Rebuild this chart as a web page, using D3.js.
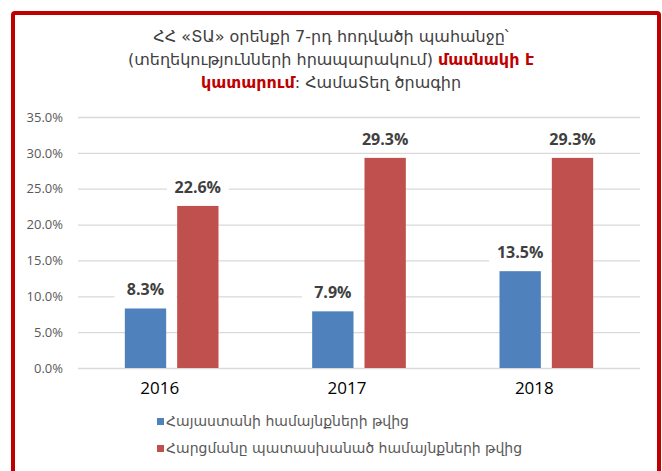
<!DOCTYPE html>
<html><head><meta charset="utf-8">
<script src="https://cdn.jsdelivr.net/npm/d3@7"></script>
<style>body{margin:0;background:#fff;}svg{display:block;}</style>
</head><body>
<svg id="chart" width="662" height="471"></svg>
<script>
const categories = ["2016", "2017", "2018"];
const seriesNames = ["Հայաստանի համայնքների թվից", "Հարցմանը պատասխանած համայնքների թվից"];
const armeniaShare = [8.3, 7.9, 13.5];
const respondentShare = [22.6, 29.3, 29.3];
const yTicks = [0, 5, 10, 15, 20, 25, 30, 35];
const titleLines = [
  [{t: "ՀՀ «ՏԱ» օրենքի 7-րդ հոդվածի պահանջը՝", b: false}],
  [{t: "(տեղեկությունների հրապարակում) ", b: false}, {t: "մասնակի է", b: true}],
  [{t: "կատարում", b: true}, {t: ": ՀամաՏեղ ծրագիր", b: false}]
];
const colors = ["#4f81bd", "#c0504d"];

const svg = d3.select("#chart");
svg.append("rect").attr("x", 13).attr("y", 13).attr("width", 646).attr("height", 480)
  .attr("rx", 2).attr("fill", "#fff").attr("stroke", "#c00000").attr("stroke-width", 4);

const armFont = "'DejaVu Sans', sans-serif";
const title = svg.append("text").attr("text-anchor", "middle").attr("font-family", armFont)
  .attr("font-size", 16).attr("fill", "#404040");
titleLines.forEach((line, i) => {
  const tl = title.append("tspan").attr("x", 331).attr("y", 42 + i * 23);
  line.forEach(seg => {
    tl.append("tspan").text(seg.t)
      .attr("font-weight", seg.b ? "bold" : "normal")
      .attr("fill", seg.b ? "#c00000" : "#404040");
  });
});

const x0 = d3.scaleBand().domain(categories).range([78, 640]).paddingInner(0).paddingOuter(0);
const y = d3.scaleLinear().domain([0, 35]).range([368, 117]);
const x1 = d3.scaleBand().domain([0, 1])
  .range([x0.bandwidth() * 0.25, x0.bandwidth() * 0.75]).paddingInner(0.21);

// gridlines
const yAxis = d3.axisLeft(y).tickValues(yTicks).tickSize(-(640 - 78)).tickPadding(15)
  .tickFormat(d => d3.format(".1f")(d) + "%");
const gy = svg.append("g").attr("transform", "translate(78,0)").call(yAxis);
gy.select(".domain").remove();
gy.selectAll(".tick line").attr("stroke", "#d9d9d9").attr("stroke-width", 1.3);
gy.selectAll(".tick text").attr("font-family", "'Open Sans', sans-serif").attr("font-size", 13)
  .attr("fill", "#595959");

const data = categories.map((c, i) => ({cat: c, vals: [armeniaShare[i], respondentShare[i]]}));
const groups = svg.append("g").selectAll("g").data(data).join("g")
  .attr("transform", d => `translate(${x0(d.cat)},0)`);
groups.selectAll("rect").data(d => d.vals.map((v, k) => ({v, k}))).join("rect")
  .attr("x", d => x1(d.k)).attr("width", x1.bandwidth())
  .attr("y", d => y(d.v)).attr("height", d => y(0) - y(d.v))
  .attr("fill", d => colors[d.k]);

// data labels with white backing
const lab = groups.selectAll("g.lab").data(d => d.vals.map((v, k) => ({v, k}))).join("g").attr("class", "lab");
lab.append("rect")
  .attr("x", d => x1(d.k) + x1.bandwidth() / 2 - 31).attr("width", 62)
  .attr("y", d => y(d.v) - 31).attr("height", 23).attr("fill", "#fff");
lab.append("text")
  .attr("x", d => x1(d.k) + x1.bandwidth() / 2).attr("y", d => y(d.v) - 13)
  .attr("text-anchor", "middle").attr("font-family", "'Open Sans', sans-serif")
  .attr("font-weight", "bold").attr("font-size", 16).attr("fill", "#404040")
  .text(d => d3.format(".1f")(d.v) + "%");

// x labels
const xAxis = d3.axisBottom(x0).tickSize(0).tickPadding(0);
const gx = svg.append("g").attr("transform", "translate(-12,382)").call(xAxis);
gx.select(".domain").remove();
gx.selectAll(".tick text").attr("font-family", "'Open Sans', sans-serif").attr("font-size", 17)
  .attr("fill", "#000").attr("dy", "0.72em");

// legend
const leg = svg.append("g").selectAll("g").data(seriesNames).join("g")
  .attr("transform", (d, i) => `translate(157,${421 + i * 27})`);
leg.append("rect").attr("x", 0).attr("y", -3).attr("width", 7).attr("height", 7)
  .attr("fill", (d, i) => colors[i]);
leg.append("text").attr("x", 9).attr("y", 5).attr("font-family", armFont)
  .attr("font-size", 14).attr("fill", "#595959").text(d => d);
</script>
</body></html>
